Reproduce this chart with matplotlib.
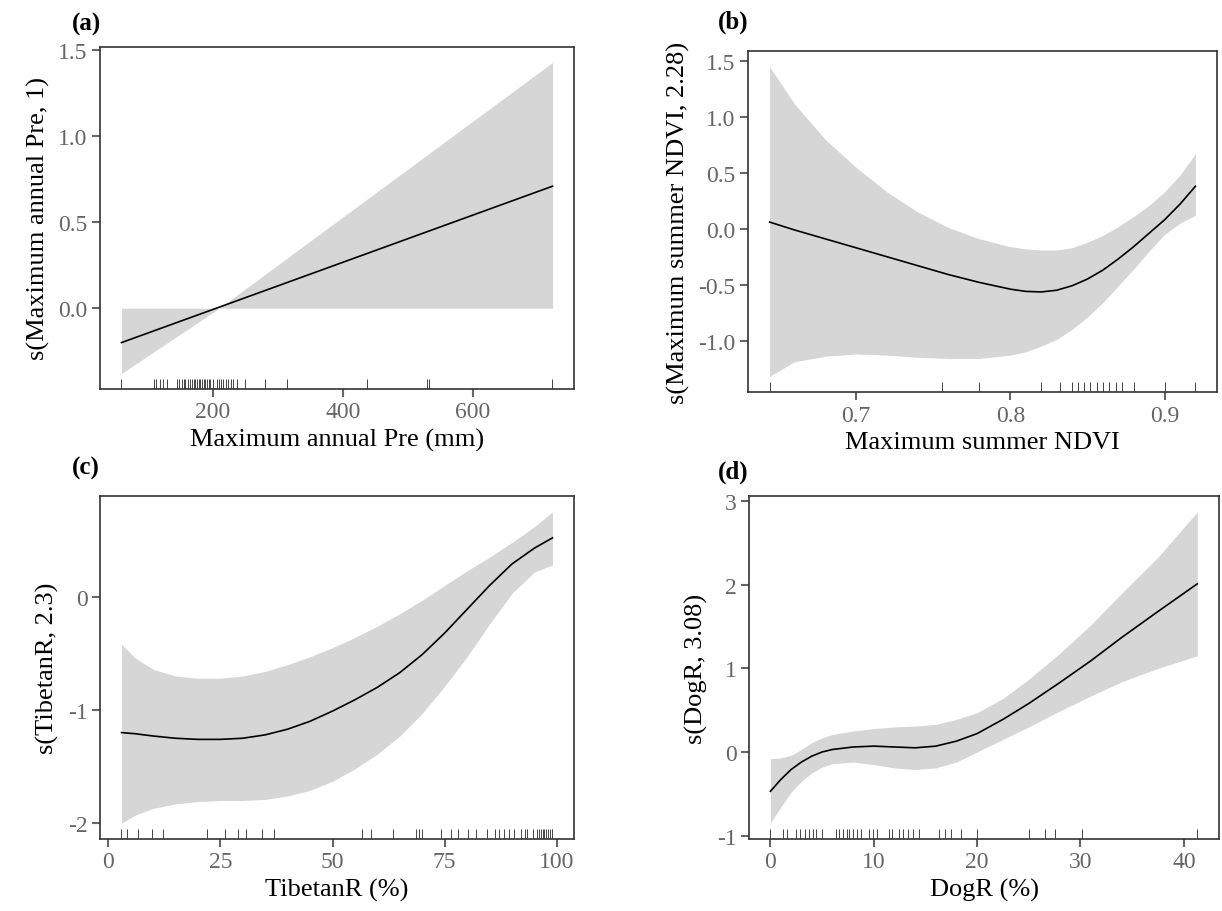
import matplotlib
matplotlib.use('Agg')
import matplotlib.pyplot as plt

# ---------------- data ----------------
# (a) Maximum annual Pre
pre_x = [60, 210, 722]
pre_fit = [-0.20, 0.006, 0.71]
pre_lo = [-0.38, 0.0, 0.0]
pre_hi = [0.0, 0.0, 1.43]
pre_rug = [60, 110, 112.5, 118.6, 123.7, 130, 145.5, 149, 153, 155.6, 158, 162,
           164.7, 168, 170.7, 173, 175.8, 178.3, 181, 183.4, 186, 188.6, 191,
           193.7, 196.2, 199.8, 206.4, 210, 213, 216.6, 220, 224.2, 228.2,
           231.8, 236.9, 249.9, 280.4, 314.5, 436.6, 529.8, 532.3, 721.6]

# (b) Maximum summer NDVI
ndvi_x = [0.644, 0.66, 0.68, 0.70, 0.72, 0.74, 0.76, 0.78, 0.80, 0.81, 0.82,
          0.83, 0.84, 0.85, 0.86, 0.87, 0.88, 0.89, 0.90, 0.91, 0.92]
ndvi_fit = [0.06, -0.01, -0.09, -0.17, -0.25, -0.33, -0.41, -0.48, -0.54, -0.56,
            -0.565, -0.55, -0.51, -0.45, -0.37, -0.27, -0.16, -0.04, 0.08, 0.22, 0.38]
ndvi_lo = [-1.32, -1.19, -1.14, -1.12, -1.13, -1.15, -1.16, -1.16, -1.13, -1.10,
           -1.05, -0.99, -0.90, -0.79, -0.66, -0.51, -0.36, -0.20, -0.05, 0.05, 0.12]
ndvi_hi = [1.45, 1.12, 0.80, 0.55, 0.33, 0.15, 0.01, -0.09, -0.16, -0.18,
           -0.19, -0.19, -0.17, -0.12, -0.06, 0.02, 0.11, 0.21, 0.33, 0.48, 0.67]
ndvi_rug = [0.644, 0.7556, 0.7795, 0.820, 0.832, 0.840, 0.844, 0.848, 0.852,
            0.856, 0.860, 0.864, 0.8685, 0.8725, 0.880, 0.900, 0.920]

# (c) TibetanR
tib_x = [3, 6, 10, 15, 20, 25, 30, 35, 40, 45, 50, 55, 60, 65, 70, 75, 80, 85,
         90, 95, 99]
tib_fit = [-1.20, -1.21, -1.23, -1.25, -1.26, -1.26, -1.25, -1.22, -1.17, -1.10,
           -1.01, -0.91, -0.80, -0.67, -0.51, -0.32, -0.11, 0.10, 0.29, 0.43, 0.52]
tib_lo = [-2.00, -1.93, -1.87, -1.83, -1.81, -1.80, -1.80, -1.79, -1.76, -1.71,
          -1.63, -1.52, -1.39, -1.23, -1.03, -0.79, -0.53, -0.24, 0.03, 0.22, 0.28]
tib_hi = [-0.42, -0.54, -0.64, -0.70, -0.72, -0.72, -0.70, -0.66, -0.60, -0.53,
          -0.45, -0.36, -0.26, -0.15, -0.03, 0.10, 0.23, 0.35, 0.48, 0.62, 0.75]
tib_rug = [2.8, 4.3, 6.7, 9.7, 12.3, 22, 26, 28.9, 30.8, 34.3, 36.9, 56.5, 58.5,
           63.5, 68.5, 69.2, 70, 74.2, 76.4, 77.9, 80.2, 82, 84.4, 86.1, 87.2,
           88.1, 89.3, 90.4, 91.9, 92.8, 93.4, 94.7, 95.6, 96, 96.4, 96.8, 97.2,
           97.6, 98, 98.4, 98.8, 99]

# (d) DogR
dog_x = [0, 1, 2, 3, 4, 5, 6, 8, 10, 12, 14, 16, 18, 20, 22.5, 25, 28, 31, 34,
         37.5, 41.3]
dog_fit = [-0.47, -0.33, -0.21, -0.12, -0.05, 0.00, 0.03, 0.06, 0.07, 0.06, 0.05,
           0.07, 0.13, 0.22, 0.39, 0.58, 0.83, 1.09, 1.37, 1.68, 2.01]
dog_lo = [-0.85, -0.66, -0.48, -0.35, -0.25, -0.18, -0.14, -0.12, -0.15, -0.19,
          -0.21, -0.19, -0.12, 0.00, 0.15, 0.30, 0.49, 0.67, 0.84, 1.00, 1.15]
dog_hi = [-0.08, -0.07, -0.04, 0.03, 0.11, 0.17, 0.21, 0.25, 0.28, 0.30, 0.31,
          0.33, 0.39, 0.47, 0.64, 0.87, 1.18, 1.52, 1.90, 2.33, 2.87]
dog_rug = [0, 1.2, 1.6, 2.5, 2.9, 3.3, 3.7, 4.1, 4.4, 5.0, 6.3, 6.6, 7.0, 7.4,
           7.6, 8.0, 8.4, 8.8, 9.5, 9.9, 10.3, 11.5, 11.8, 12.4, 12.8, 13.3,
           13.8, 14.4, 16.3, 16.9, 17.5, 18.4, 20.0, 25.0, 26.6, 27.5, 30.1, 41.3]

# ---------------- style ----------------
plt.rcParams['font.family'] = ['Liberation Serif', 'DejaVu Serif']
band_col = '#D6D6D6'
tick_col = '#666666'
spine_col = '#333333'

fig = plt.figure(figsize=(12.22, 9.12), dpi=100)

W, H = 1222, 912


def make_ax(l, r, t, b):
    return fig.add_axes([l / W, 1 - b / H, (r - l) / W, (b - t) / H])


panels = [
    dict(box=(100, 574, 48, 390), x=pre_x, fit=pre_fit, lo=pre_lo, hi=pre_hi,
         rug=pre_rug, xlim=(27, 755), ylim=(-0.47, 1.52),
         xticks=[200, 400, 600], yticks=[0.0, 0.5, 1.0, 1.5], yfmt='{:.1f}',
         xfmt='{:.0f}', xlabel='Maximum annual Pre (mm)',
         ylabel='s(Maximum annual Pre, 1)', tag='(a)', tagxy=(72, 24)),
    dict(box=(748, 1217, 52, 393), x=ndvi_x, fit=ndvi_fit, lo=ndvi_lo,
         hi=ndvi_hi, rug=ndvi_rug, xlim=(0.630, 0.934), ylim=(-1.46, 1.59),
         xticks=[0.7, 0.8, 0.9], yticks=[-1.0, -0.5, 0.0, 0.5, 1.0, 1.5],
         yfmt='{:.1f}', xfmt='{:.1f}', xlabel='Maximum summer NDVI',
         ylabel='s(Maximum summer NDVI, 2.28)', tag='(b)', tagxy=(718, 22)),
    dict(box=(100, 574, 497, 840), x=tib_x, fit=tib_fit, lo=tib_lo, hi=tib_hi,
         rug=tib_rug, xlim=(-1.8, 103.8), ylim=(-2.14, 0.89),
         xticks=[0, 25, 50, 75, 100], yticks=[-2, -1, 0], yfmt='{:.0f}',
         xfmt='{:.0f}', xlabel='TibetanR (%)', ylabel='s(TibetanR, 2.3)',
         tag='(c)', tagxy=(72, 468)),
    dict(box=(749, 1219, 497, 840), x=dog_x, fit=dog_fit, lo=dog_lo, hi=dog_hi,
         rug=dog_rug, xlim=(-2.07, 43.4), ylim=(-1.04, 3.06),
         xticks=[0, 10, 20, 30, 40], yticks=[-1, 0, 1, 2, 3], yfmt='{:.0f}',
         xfmt='{:.0f}', xlabel='DogR (%)', ylabel='s(DogR, 3.08)',
         tag='(d)', tagxy=(718, 472)),
]

for p in panels:
    ax = make_ax(*p['box'])
    ax.fill_between(p['x'], p['lo'], p['hi'], color=band_col, lw=0, zorder=1)
    ax.plot(p['x'], p['fit'], color='black', lw=1.2, zorder=3)
    # rug along the bottom
    ax.vlines(p['rug'], 0, 0.03, transform=ax.get_xaxis_transform(),
              color='#444444', lw=0.7, zorder=2)
    ax.set_xlim(*p['xlim'])
    ax.set_ylim(*p['ylim'])
    ax.set_xticks(p['xticks'])
    ax.set_xticklabels([p['xfmt'].format(v) for v in p['xticks']])
    ax.set_yticks(p['yticks'])
    ax.set_yticklabels([p['yfmt'].format(v) for v in p['yticks']])
    ax.tick_params(direction='out', length=6, width=1.5, colors=tick_col,
                   labelsize=17, pad=3)
    for s in ax.spines.values():
        s.set_color(spine_col)
        s.set_linewidth(1.2)
    ax.set_xlabel(p['xlabel'], fontsize=19, labelpad=4)
    ax.set_ylabel(p['ylabel'], fontsize=19, labelpad=6)
    tx, ty = p['tagxy']
    fig.text(tx / W, 1 - ty / H, p['tag'], fontsize=18, fontweight='bold',
             ha='left', va='center')

fig.savefig('out.png', dpi=100)
